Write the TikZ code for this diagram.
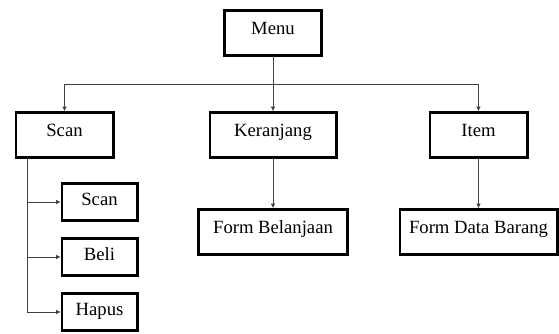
\documentclass[tikz,border=0pt]{standalone}
\usepackage{fontspec}
\setmainfont{Liberation Serif}
\usetikzlibrary{arrows.meta,positioning}
\tikzset{
  block/.style={
    rectangle,
    draw=black,
    line width=2pt,
    fill=white,
    align=center,
    inner sep=0pt,
    outer sep=0pt,
    minimum width=73pt,
    minimum height=34pt,
    text height=10pt,
    text depth=8.3pt,
    font=\fontsize{14}{16}\selectfont
  },
  subblock/.style={
    block,
    minimum width=56.5pt,
    minimum height=28pt,
    text depth=5.3pt
  },
  arrow/.style={
    -{Latex[length=3.5pt,width=3.5pt]},
    line width=0.7pt,
    draw=black!75,
    shorten >=0.8pt
  },
  line/.style={
    line width=0.7pt,
    draw=black!75
  }
}
\begin{document}
\begin{tikzpicture}[x=0.75pt, y=-0.75pt]
  \useasboundingbox (0,0) rectangle (559,334);

  \node[block] (menu) at (273,33) {Menu};
  \node[block, minimum width=94.75pt, below=42.5pt of menu] (keranjang) {Keranjang};
  \node[block, left=72.5pt of keranjang] (scan) {Scan};
  \node[block, right=70.25pt of keranjang] (item) {Item};

  \node[block, minimum width=112pt, below=38.75pt of keranjang] (belanjaan) {Form Belanjaan};
  \node[block, minimum width=118pt, below=38.75pt of item] (databarang) {Form Data Barang};

  \node[subblock, below right=19.25pt and -38.5pt of scan] (subscan) {Scan};
  \node[subblock, below=13.25pt of subscan] (beli) {Beli};
  \node[subblock, below=13.25pt of beli] (hapus) {Hapus};

  \coordinate[below=21.25pt of menu.south] (bus);
  \coordinate (trunk) at ([xshift=-27.75pt]scan.south);

  \draw[arrow] (menu) -- (keranjang);
  \draw[arrow] (bus) -| (scan);
  \draw[arrow] (bus) -| (item);
  \draw[arrow] (keranjang) -- (belanjaan);
  \draw[arrow] (item) -- (databarang);

  \draw[line] (trunk) -- (trunk |- hapus.west);
  \draw[arrow] (trunk) |- (subscan);
  \draw[arrow] (trunk) |- (beli);
  \draw[arrow] (trunk) |- (hapus);
\end{tikzpicture}
\end{document}
